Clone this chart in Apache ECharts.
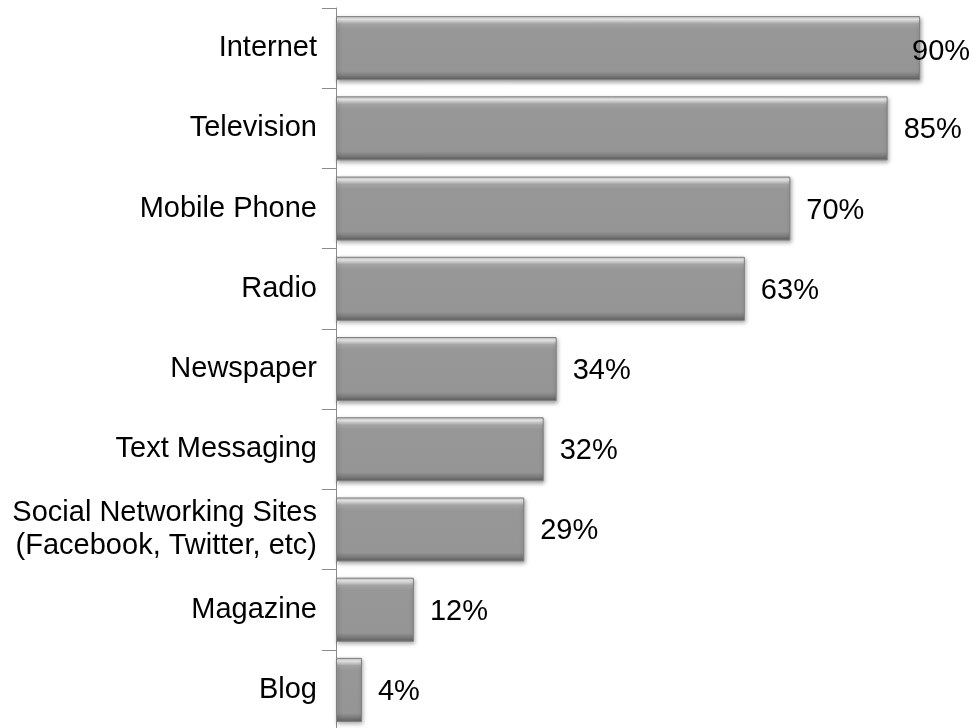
<!DOCTYPE html>
<html>
<head>
<meta charset="utf-8">
<script src="https://cdn.jsdelivr.net/npm/echarts@6/dist/echarts.min.js"></script>
<style>
  html, body { margin: 0; padding: 0; background: #fff; }
  #chart { width: 978px; height: 728px; }
</style>
</head>
<body>
<div id="chart"></div>
<script>
const categories = [
  'Internet',
  'Television',
  'Mobile Phone',
  'Radio',
  'Newspaper',
  'Text Messaging',
  'Social Networking Sites\n(Facebook, Twitter, etc)',
  'Magazine',
  'Blog',
]
const values = [90, 85, 70, 63, 34, 32, 29, 12, 4]

const FONT = '"Liberation Sans", Arial, sans-serif'
const AXIS_COLOR = '#8c8c8c'

// bevelled grey fill
const barFill = new echarts.graphic.LinearGradient(0, 0, 0, 1, [
  { offset: 0, color: '#bdbdbd' },
  { offset: 0.05, color: '#f0f0f0' },
  { offset: 0.12, color: '#a4a4a4' },
  { offset: 0.2, color: '#979797' },
  { offset: 0.86, color: '#959595' },
  { offset: 0.93, color: '#7c7c7c' },
  { offset: 1, color: '#5e5e5e' },
])

const chart = echarts.init(document.getElementById('chart'), null, { renderer: 'canvas' })

chart.setOption({
  backgroundColor: '#fff',
  animation: false,
  grid: {
    left: 336,
    top: 8,
    width: 649,
    height: 722,
    containLabel: false,
    outerBoundsMode: 'none',
  },
  xAxis: {
    type: 'value',
    min: 0,
    max: 100,
    show: false,
    splitLine: { show: false },
  },
  yAxis: {
    type: 'category',
    inverse: true,
    data: categories,
    axisLine: { show: true, lineStyle: { color: AXIS_COLOR, width: 1 } },
    axisTick: { show: true, length: 14, lineStyle: { color: AXIS_COLOR } },
    axisLabel: {
      color: '#000',
      fontFamily: FONT,
      fontSize: 29,
      lineHeight: 33,
      margin: 19,
      align: 'right',
    },
  },
  series: [
    {
      type: 'bar',
      data: values.map((v, i) => ({
        value: v,
        label: { offset: i === 0 ? [-24, 4] : [0, 2] },
      })),
      barWidth: 64,
      itemStyle: {
        color: barFill,
        borderColor: '#808080',
        borderWidth: 1,
        shadowBlur: 4,
        shadowOffsetX: 1,
        shadowOffsetY: 2,
        shadowColor: 'rgba(0,0,0,0.35)',
      },
      label: {
        show: true,
        position: 'right',
        distance: 16,
        color: '#000',
        fontFamily: FONT,
        fontSize: 29,
        formatter: (p) => p.value + '%',
      },
    },
  ],
})
</script>
</body>
</html>
